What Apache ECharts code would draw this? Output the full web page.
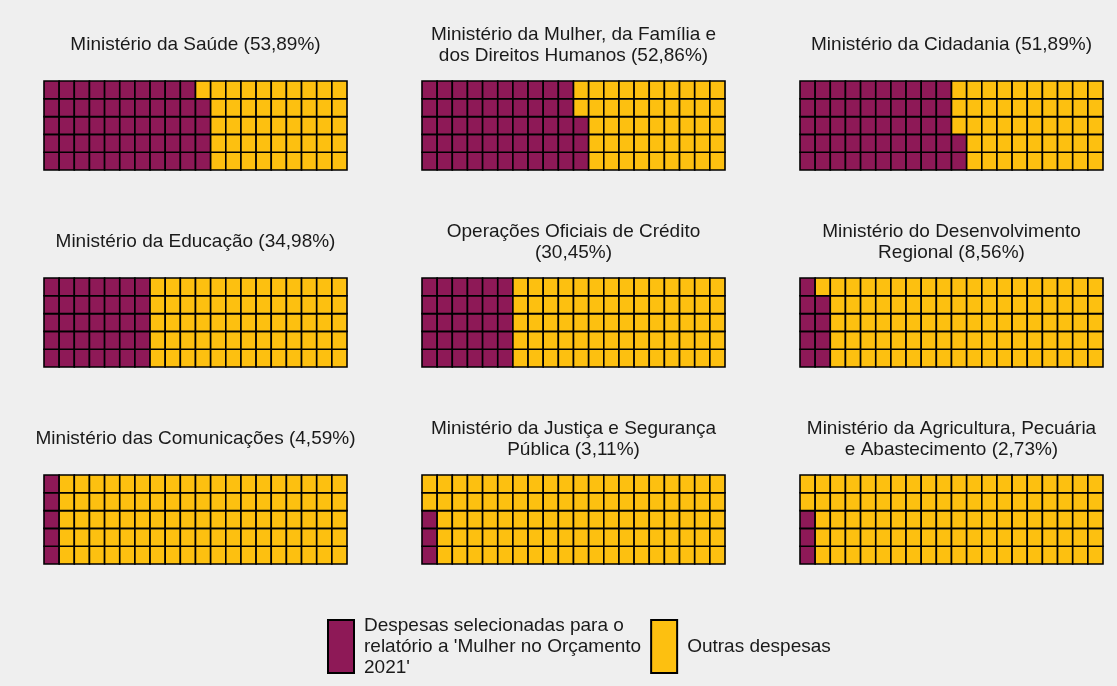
<!DOCTYPE html>
<html>
<head>
<meta charset="utf-8">
<script src="https://cdn.jsdelivr.net/npm/echarts@6/dist/echarts.min.js"></script>
<style>
html,body{margin:0;padding:0;background:#efefef;}
#chart{width:1117px;height:686px;}
</style>
</head>
<body>
<div id="chart"></div>
<script>
// ---- data ----
const panelNames = [
  'Ministério da Saúde',
  'Ministério da Mulher, da Família e\ndos Direitos Humanos',
  'Ministério da Cidadania',
  'Ministério da Educação',
  'Operações Oficiais de Crédito\n',
  'Ministério do Desenvolvimento\nRegional',
  'Ministério das Comunicações',
  'Ministério da Justiça e Segurança\nPública',
  'Ministério da Agricultura, Pecuária\ne Abastecimento'
];
const percentages = [53.89, 52.86, 51.89, 34.98, 30.45, 8.56, 4.59, 3.11, 2.73];
const selectedCells = [54, 53, 52, 35, 30, 9, 5, 3, 3];   // purple squares out of 100
const legendNames = ["Despesas selecionadas para o\nrelatório a 'Mulher no Orçamento\n2021'", 'Outras despesas'];
const nCols = 20, nRows = 5;
const colCats = Array.from({length: nCols}, (_, i) => String(i));
const rowCats = Array.from({length: nRows}, (_, i) => String(i));

// ---- layout ----
const colLeft = [44, 422, 800];
const gridW = 303;
const rowTop = [81, 278, 475];
const gridH = 89;
const titleCenter = [45, 242, 439];
const PURPLE = '#8e1957', YELLOW = '#fdc010';
const FONT = "'Liberation Sans', Arial, sans-serif";

const grids = [], xAxes = [], yAxes = [], titles = [], series = [];

function renderCell(params, api) {
  const c = api.coord([api.value(0), api.value(1)]);
  const s = api.size([1, 1]);
  return {
    type: 'rect',
    shape: {x: c[0] - s[0] / 2, y: c[1] - s[1] / 2, width: s[0], height: s[1]},
    style: {fill: api.visual('color'), stroke: '#000', lineWidth: 1.6}
  };
}

panelNames.forEach((name, i) => {
  const r = Math.floor(i / 3), c = i % 3;
  grids.push({left: colLeft[c], top: rowTop[r], width: gridW, height: gridH, containLabel: false});
  xAxes.push({type: 'category', gridIndex: i, data: colCats, show: false});
  yAxes.push({type: 'category', gridIndex: i, data: rowCats, show: false});
  const label = name + (name.endsWith('\n') ? '' : ' ') + '(' + percentages[i].toFixed(2).replace('.', ',') + '%)';
  const lines = label.split('\n').length;
  titles.push({
    text: label,
    left: colLeft[c] + gridW / 2,
    top: titleCenter[r] - lines * 10.5,
    textAlign: 'center',
    padding: 0,
    textStyle: {fontFamily: FONT, fontSize: 19, fontWeight: 'normal', color: '#1a1a1a', lineHeight: 21}
  });
  const sel = [], other = [];
  for (let k = 0; k < nCols * nRows; k++) {
    const pt = [Math.floor(k / nRows), k % nRows];
    (k < selectedCells[i] ? sel : other).push(pt);
  }
  series.push({
    type: 'custom', name: legendNames[0], xAxisIndex: i, yAxisIndex: i,
    data: sel, renderItem: renderCell, silent: true,
    itemStyle: {color: PURPLE, borderColor: '#000', borderWidth: 1}
  });
  series.push({
    type: 'custom', name: legendNames[1], xAxisIndex: i, yAxisIndex: i,
    data: other, renderItem: renderCell, silent: true,
    itemStyle: {color: YELLOW, borderColor: '#000', borderWidth: 1}
  });
});

const chart = echarts.init(document.getElementById('chart'), null, {renderer: 'canvas'});
chart.setOption({
  backgroundColor: '#efefef',
  animation: false,
  title: titles,
  grid: grids,
  xAxis: xAxes,
  yAxis: yAxes,
  legend: {
    data: legendNames,
    left: 327, top: 615,
    orient: 'horizontal',
    icon: 'rect',
    itemWidth: 26, itemHeight: 53,
    itemGap: 9,
    selectedMode: false,
    padding: 0,
    textStyle: {fontFamily: FONT, fontSize: 19, color: '#1a1a1a', lineHeight: 21, padding: [0, 0, 0, 5]}
  },
  series: series
});
</script>
</body>
</html>
